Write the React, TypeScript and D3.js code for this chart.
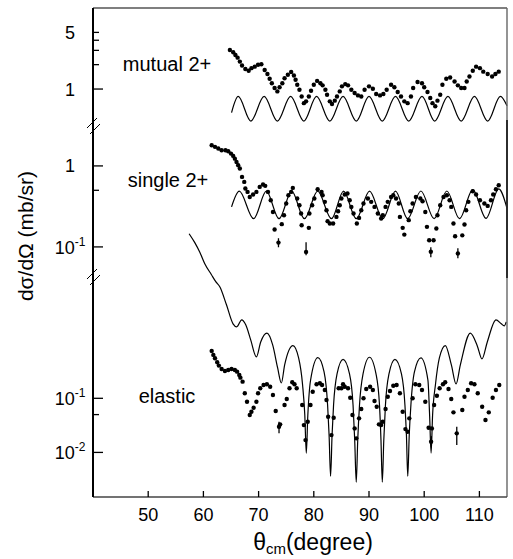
import React from 'react'
import * as d3 from 'd3'

// mutual 2+ : [theta_cm, dsigma/dOmega (mb/sr)]
const mutualData: [number, number][] = [
  [64.8, 3.03], [65.4, 2.84], [65.8, 2.63], [66.2, 2.44], [66.6, 2.18], [67.0, 1.95], [67.6, 1.77], [68.2, 1.68],
  [68.7, 1.81], [69.3, 1.89], [69.9, 1.99], [70.5, 2.02], [71.1, 1.72], [71.6, 1.53], [72.0, 1.34], [72.4, 1.18],
  [72.9, 1.03], [73.4, 0.935], [73.8, 1.05], [74.3, 1.18], [74.7, 1.36], [75.3, 1.5], [75.9, 1.62], [76.4, 1.47],
  [76.7, 1.3], [77.0, 1.13], [77.4, 0.98], [77.8, 0.81], [78.2, 0.67], [78.6, 0.705], [79.1, 0.81], [79.5, 0.953],
  [80.0, 1.13], [80.6, 1.26], [81.2, 1.18], [81.6, 1.11], [82.1, 0.98], [82.4, 0.851], [82.9, 0.705], [83.3, 0.655],
  [83.8, 0.719], [84.2, 0.81], [84.7, 0.935], [85.1, 1.08], [85.7, 1.15], [86.2, 1.11], [86.8, 0.98], [87.4, 0.893],
  [88.0, 0.835], [88.6, 0.81], [89.2, 0.98], [90.0, 1.08], [90.7, 1.01], [91.3, 0.868], [92.0, 0.835], [92.6, 0.868],
  [93.2, 0.98], [94.0, 1.13], [94.6, 1.05], [95.2, 0.919], [95.8, 0.81], [96.4, 0.705], [97.0, 0.67], [97.6, 0.81],
  [98.0, 1.03], [98.8, 1.22], [99.6, 1.18], [100.0, 1.05], [100.6, 0.919], [101.1, 0.776], [101.5, 0.67], [102.0, 0.612],
  [102.4, 0.719], [102.9, 0.851], [103.3, 1.13], [104.0, 1.34], [104.7, 1.39], [105.5, 1.24], [106.1, 1.11], [106.7, 1.03],
  [107.3, 1.03], [107.7, 1.24], [108.2, 1.43], [108.8, 1.68], [109.4, 1.89], [110.1, 1.81], [110.7, 1.64], [111.5, 1.53],
  [112.3, 1.43], [112.9, 1.53], [113.5, 1.64],
]

const mutualTheory: [number, number][] = [
  [65.1, 0.512], [66.3, 0.811], [68.6, 0.403], [71.0, 0.811], [73.4, 0.403], [75.8, 0.811], [78.2, 0.403],
  [80.5, 0.811], [82.9, 0.403], [85.3, 0.811], [87.7, 0.403], [90.0, 0.811], [92.4, 0.403], [94.8, 0.811],
  [97.2, 0.403], [99.6, 0.811], [101.9, 0.403], [104.3, 0.811], [106.7, 0.403], [109.1, 0.811], [111.5, 0.403],
  [113.8, 0.811], [115, 0.62],
]

// single 2+
const singleData: [number, number][] = [
  [61.5, 1.8], [62.1, 1.72], [62.7, 1.64], [63.3, 1.56], [64.0, 1.56], [64.5, 1.52], [65.0, 1.42], [65.4, 1.33],
  [65.7, 1.23], [66.0, 1.12], [66.3, 1.02], [66.6, 0.929], [67.0, 0.732], [67.4, 0.635], [67.6, 0.526], [68.0, 0.478],
  [68.4, 0.414], [69.0, 0.443], [69.6, 0.478], [70.2, 0.551], [70.8, 0.589], [71.2, 0.567], [71.7, 0.478], [72.2, 0.377],
  [72.6, 0.27], [72.9, 0.164], [73.6, 0.113], [74.2, 0.191], [74.6, 0.246], [75.0, 0.343], [75.4, 0.435], [75.9, 0.478],
  [76.2, 0.535], [77.0, 0.396], [77.4, 0.327], [77.7, 0.258], [77.8, 0.185], [78.6, 0.0868], [79.1, 0.172], [79.2, 0.258],
  [79.7, 0.327], [80.1, 0.396], [80.7, 0.516], [81.4, 0.478], [81.6, 0.435], [82.0, 0.36], [82.3, 0.284], [82.5, 0.208],
  [82.9, 0.1945], [83.5, 0.1945], [84.1, 0.2346], [84.4, 0.276], [84.7, 0.327], [85.0, 0.396], [85.6, 0.443], [86.1, 0.456],
  [86.5, 0.377], [86.8, 0.312], [87.2, 0.258], [87.8, 0.1945], [88.2, 0.228], [88.6, 0.284], [89.0, 0.343], [89.8, 0.396],
  [90.4, 0.36], [91.0, 0.312], [91.6, 0.258], [92.2, 0.224], [92.5, 0.246], [93.0, 0.312], [93.4, 0.36], [94.0, 0.414],
  [94.4, 0.435], [94.9, 0.396], [95.4, 0.343], [95.6, 0.2346], [96.1, 0.172], [96.4, 0.142], [97.2, 0.214], [97.5, 0.276],
  [97.9, 0.343], [98.5, 0.414], [99.3, 0.396], [99.7, 0.367], [100.2, 0.27], [100.5, 0.177], [100.9, 0.121], [101.2, 0.087],
  [101.7, 0.121], [102.2, 0.169], [102.4, 0.246], [102.9, 0.327], [103.5, 0.414], [104.1, 0.435], [104.6, 0.377], [104.9, 0.312],
  [105.3, 0.1945], [105.6, 0.1355], [106.1, 0.083], [106.9, 0.139], [107.3, 0.189], [107.6, 0.284], [108.0, 0.36], [108.8, 0.487],
  [109.4, 0.443], [110.1, 0.377], [110.9, 0.343], [111.5, 0.321], [112.1, 0.377], [112.5, 0.443], [113.0, 0.516], [113.5, 0.578],
]

// [theta, low, high]
const singleErr: [number, number, number][] = [
  [73.6, 0.099, 0.128], [78.6, 0.079, 0.114], [101.2, 0.0746, 0.099], [106.1, 0.0725, 0.0964],
]

const singleTheory: [number, number][] = [
  [65.1, 0.312], [66.5, 0.487], [69.1, 0.223], [71.4, 0.487], [73.7, 0.223], [76.0, 0.487], [78.3, 0.223],
  [80.7, 0.487], [83.2, 0.223], [85.4, 0.487], [87.7, 0.223], [90.1, 0.487], [92.5, 0.223], [94.8, 0.487],
  [97.0, 0.223], [99.4, 0.49], [101.8, 0.223], [104.1, 0.49], [106.4, 0.223], [108.8, 0.51], [111.2, 0.225],
  [113.5, 0.52], [115, 0.3],
]

// elastic
const elasticData: [number, number][] = [
  [61.5, 0.751], [61.8, 0.634], [62.1, 0.551], [62.5, 0.464], [62.8, 0.402], [63.3, 0.349], [63.9, 0.32], [64.5, 0.334],
  [65.1, 0.349], [65.7, 0.334], [66.1, 0.311], [66.5, 0.27], [66.7, 0.241], [67.1, 0.203], [67.5, 0.124], [67.9, 0.0865],
  [68.4, 0.049], [68.7, 0.0565], [69.1, 0.067], [69.6, 0.0865], [69.9, 0.124], [70.3, 0.153], [70.9, 0.176], [71.5, 0.182],
  [72.1, 0.164], [72.6, 0.115], [73.1, 0.0582], [73.7, 0.0298], [73.9, 0.033], [74.7, 0.0752], [75.1, 0.097], [75.6, 0.153],
  [76.1, 0.198], [76.5, 0.182], [76.9, 0.153], [77.9, 0.0752], [78.2, 0.032], [78.5, 0.0169], [78.9, 0.0369], [79.4, 0.0752],
  [79.8, 0.1325], [80.5, 0.182], [81.1, 0.19], [81.5, 0.176], [82.0, 0.1425], [82.3, 0.093], [82.6, 0.0456], [83.2, 0.0209],
  [83.6, 0.0437], [84.5, 0.153], [85.0, 0.153], [85.3, 0.182], [85.6, 0.164], [86.2, 0.153], [86.6, 0.1026], [87.0, 0.049],
  [87.4, 0.0278], [87.7, 0.0182], [88.2, 0.0426], [88.6, 0.0634], [89.0, 0.1], [89.5, 0.1487], [90.2, 0.164], [90.7, 0.1425],
  [91.0, 0.0891], [91.4, 0.0699], [91.8, 0.033], [92.2, 0.032], [92.5, 0.0369], [93.0, 0.0634], [93.4, 0.107], [93.8, 0.1365],
  [94.4, 0.171], [95.0, 0.176], [95.6, 0.124], [96.1, 0.0565], [96.6, 0.027], [97.0, 0.0241], [97.3, 0.0426], [97.9, 0.1],
  [98.4, 0.182], [99.1, 0.176], [99.6, 0.1425], [100.2, 0.0865], [100.8, 0.0285], [101.25, 0.0157], [101.4, 0.0278], [101.8, 0.0752],
  [102.3, 0.1117], [102.8, 0.153], [103.4, 0.182], [103.8, 0.198], [104.4, 0.1487], [104.9, 0.097], [105.3, 0.055], [105.9, 0.0225],
  [106.9, 0.0607], [107.3, 0.107], [107.9, 0.1425], [108.5, 0.19], [109.1, 0.182], [109.7, 0.124], [110.5, 0.0699], [111.1, 0.0397],
  [111.7, 0.055], [112.4, 0.1026], [113.0, 0.1425], [113.6, 0.176],
]

const elasticErr: [number, number, number][] = [
  [73.7, 0.0225, 0.0369], [101.3, 0.0125, 0.02], [105.9, 0.0137, 0.0298],
]

const elasticTheory: [number, number][] = [
  [57.41, 110], [58.44, 75.2], [59.35, 50.1], [60.25, 30.7], [61.46, 19.2], [62.24, 14.3], [62.97, 11.5], [64.18, 5.34],
  [65.37, 2.38], [66.04, 2.09], [66.94, 2.82], [67.67, 2.28], [68.57, 1.2], [69.6, 0.582], [70.38, 1.1], [71.52, 1.6],
  [72.55, 0.97], [73.45, 0.364], [74.12, 0.192], [74.72, 0.414], [76.22, 0.942], [77.25, 0.557], [77.97, 0.176], [78.37, 0.049],
  [78.64, 0.0097], [78.92, 0.049], [79.42, 0.218], [80.74, 0.565], [81.86, 0.307], [82.5, 0.0752], [82.77, 0.0209], [83.04, 0.00364],
  [83.31, 0.0209], [83.58, 0.0752], [84.21, 0.282], [85.3, 0.523], [86.47, 0.282], [87.11, 0.0752], [87.41, 0.0169], [87.69, 0.00282],
  [87.96, 0.0169], [88.28, 0.0752], [88.92, 0.282], [90.09, 0.574], [91.27, 0.282], [91.9, 0.0752], [92.17, 0.0169], [92.41, 0.00282],
  [92.68, 0.0169], [92.98, 0.0752], [93.62, 0.282], [94.7, 0.523], [95.88, 0.282], [96.51, 0.0752], [96.78, 0.0209], [97.02, 0.00364],
  [97.29, 0.0209], [97.59, 0.0752], [98.23, 0.307], [99.4, 0.557], [100.67, 0.218], [100.98, 0.049], [101.25, 0.0097], [101.52, 0.049],
  [102.03, 0.176], [102.75, 0.557], [103.83, 0.942], [104.92, 0.414], [105.77, 0.184], [106.55, 0.414], [108.35, 1.6], [109.62, 0.93],
  [110.47, 0.534], [111.43, 1.1], [113.0, 2.82], [113.96, 2.38], [114.5, 2.18], [114.86, 2.59],
]

const xTicks = [50, 60, 70, 80, 90, 100, 110]

const W = 513
const H = 559
const left = 93
const right = 507
const top = 8
const bottom = 497
const font = 'Liberation Sans, Arial, Helvetica, sans-serif'

const x = d3.scaleLinear().domain([40, 115]).range([left, right])
const yMutual = d3.scaleLog().domain([0.36, 10]).range([125, top])
const ySingle = d3.scaleLog().domain([0.045, 3.2]).range([275, 125])
const yElastic = d3.scaleLog().domain([0.0015, 19]).range([bottom, 275])

const Panel = ({ y, data, theory, err }: {
  y: d3.ScaleLogarithmic<number, number>
  data: [number, number][]
  theory: [number, number][]
  err?: [number, number, number][]
}) => {
  const line = d3.line<[number, number]>()
    .x(d => x(d[0]))
    .y(d => y(d[1]))
    .curve(d3.curveMonotoneX)
  return (
    <g>
      <path d={line(theory) || ''} fill="none" stroke="#000" strokeWidth={1.2} />
      {(err || []).map((e, i) => (
        <line key={'e' + i} x1={x(e[0])} x2={x(e[0])} y1={y(e[1])} y2={y(e[2])} stroke="#000" strokeWidth={1.3} />
      ))}
      {data.map((d, i) => (
        <circle key={i} cx={x(d[0])} cy={y(d[1])} r={2.2} fill="#000" />
      ))}
    </g>
  )
}

const YTick = ({ y, major }: { y: number; major?: boolean }) => (
  <line x1={left} x2={left + (major ? 10 : 6)} y1={y} y2={y} stroke="#000" strokeWidth={1.3} />
)

const Pow = ({ y, exp }: { y: number; exp: string }) => (
  <text x={70} y={y + 7} textAnchor="middle" fontSize={18}>
    10<tspan dy={-8} fontSize={12}>{exp}</tspan>
  </text>
)

const Break = ({ c }: { c: number }) => (
  <g stroke="#000" strokeWidth={1}>
    <line x1={87} y1={c + 2} x2={97} y2={c - 8} />
    <line x1={90} y1={c + 8} x2={100} y2={c - 2} />
  </g>
)

export default function App() {
  return (
    <svg width={W} height={H} style={{ position: 'absolute', left: 0, top: 0 }} fontFamily={font}>
      <rect width={W} height={H} fill="#fff" />

      <Panel y={yMutual} data={mutualData} theory={mutualTheory} />
      <Panel y={ySingle} data={singleData} theory={singleTheory} err={singleErr} />
      <Panel y={yElastic} data={elasticData} theory={elasticTheory} err={elasticErr} />

      {/* frame */}
      <line x1={left} x2={right} y1={top} y2={top} stroke="#000" strokeWidth={1.2} />
      <line x1={right} x2={right} y1={top} y2={bottom} stroke="#666" strokeWidth={1.4} />
      <line x1={right} x2={right} y1={120} y2={278} stroke="#222" strokeWidth={1.8} />
      <line x1={left} x2={right} y1={bottom} y2={bottom} stroke="#444" strokeWidth={1.5} />
      <line x1={left} x2={left} y1={top} y2={bottom} stroke="#000" strokeWidth={2} />

      {/* x axis */}
      {xTicks.map(t => (
        <g key={t}>
          <line x1={x(t)} x2={x(t)} y1={bottom} y2={bottom - 6} stroke="#000" strokeWidth={1.3} />
          <text x={x(t)} y={521} textAnchor="middle" fontSize={18}>{t}</text>
        </g>
      ))}

      {/* y ticks: mutual */}
      <YTick y={yMutual(1)} major />
      {[2, 3, 4, 5].map(v => <YTick key={v} y={yMutual(v)} />)}
      <text x={70} y={yMutual(5) + 6.5} textAnchor="middle" fontSize={18}>5</text>
      <text x={70} y={yMutual(1) + 6.5} textAnchor="middle" fontSize={18}>1</text>

      {/* single */}
      <YTick y={ySingle(1)} major />
      <YTick y={ySingle(0.5)} />
      <YTick y={ySingle(0.1)} major />
      <text x={70} y={ySingle(1) + 6.5} textAnchor="middle" fontSize={18}>1</text>
      <Pow y={ySingle(0.1)} exp="-1" />

      {/* elastic */}
      <YTick y={yElastic(0.1)} major />
      <YTick y={yElastic(0.05)} />
      <YTick y={yElastic(0.01)} major />
      <Pow y={yElastic(0.1)} exp="-1" />
      <Pow y={yElastic(0.01)} exp="-2" />

      <Break c={126} />
      <Break c={277} />

      {/* panel labels */}
      <text x={167} y={71} textAnchor="middle" fontSize={20}>mutual 2+</text>
      <text x={168} y={187} textAnchor="middle" fontSize={20}>single 2+</text>
      <text x={167} y={403} textAnchor="middle" fontSize={20}>elastic</text>

      {/* axis titles */}
      <text transform="translate(33,236) rotate(-90)" textAnchor="middle" fontSize={21}>dσ/dΩ (mb/sr)</text>
      <text x={313} y={550} textAnchor="middle" fontSize={23}>
        θ<tspan fontSize={15} dy={4}>cm</tspan><tspan dy={-4}>(degree)</tspan>
      </text>
    </svg>
  )
}
